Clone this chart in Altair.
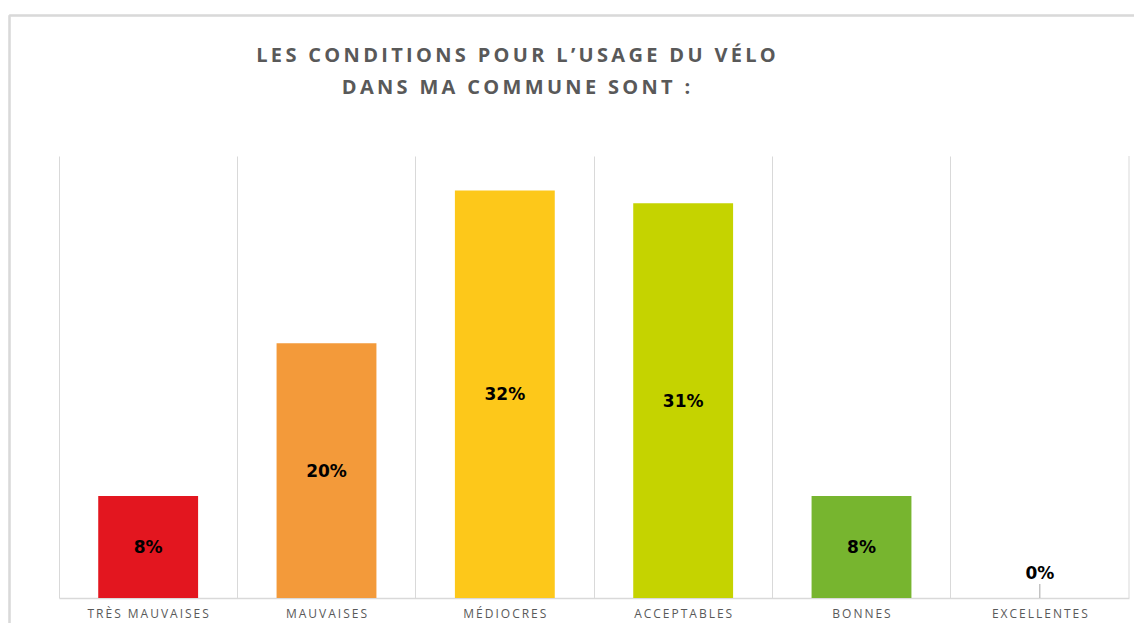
import altair as alt
import pandas as pd

categories = ["TRÈS MAUVAISES", "MAUVAISES", "MÉDIOCRES", "ACCEPTABLES", "BONNES", "EXCELLENTES"]
values = [0.08, 0.20, 0.32, 0.31, 0.08, 0.0]
labels = ["8%", "20%", "32%", "31%", "8%", "0%"]
colors = ["#E3161F", "#F39A3A", "#FDC81A", "#C5D300", "#77B52F", "#3A8F2F"]
title_lines = ["LES CONDITIONS POUR L’USAGE DU VÉLO", "DANS MA COMMUNE SONT :"]

SP = "\u2009"
def spaced(s):
    return SP.join(list(s))

disp = [spaced(c) for c in categories]
df = pd.DataFrame({"cat": disp, "value": values, "label": labels, "color": colors,
                   "half": [v / 2 for v in values]})

W, H = 1070, 442
xscale = alt.Scale(domain=disp, paddingInner=0, paddingOuter=0)
yscale = alt.Scale(domain=[0, 0.347])

base = alt.Chart(df)

bars = base.mark_bar(width=alt.RelativeBandSize(0.56)).encode(
    x=alt.X("cat:N", scale=xscale, sort=disp, title=None,
            axis=alt.Axis(bandPosition=0, grid=True, gridColor="#D9D9D9", gridWidth=1,
                          ticks=False, domainColor="#D9D9D9", domainWidth=1.5,
                          labelAngle=0, labelColor="#595959", labelFont="Open Sans",
                          labelFontSize=12, labelPadding=10)),
    y=alt.Y("value:Q", scale=yscale, axis=None),
    color=alt.Color("color:N", scale=None),
)

right_line = base.transform_filter(alt.datum.cat == disp[-1]).mark_rule(
    color="#D9D9D9", strokeWidth=1).encode(
    x=alt.X("cat:N", scale=xscale, sort=disp, bandPosition=1),
    y=alt.value(0), y2=alt.value(H),
)

txt = base.transform_filter(alt.datum.value > 0).mark_text(
    font="DejaVu Sans", fontWeight="bold", fontSize=17, color="#000000", baseline="middle", dy=1
).encode(
    x=alt.X("cat:N", scale=xscale, sort=disp),
    y=alt.Y("half:Q", scale=yscale),
    text="label:N",
)

txt0 = base.transform_filter(alt.datum.value == 0).mark_text(
    font="DejaVu Sans", fontWeight="bold", fontSize=17, color="#000000", baseline="bottom", dy=-15
).encode(
    x=alt.X("cat:N", scale=xscale, sort=disp),
    y=alt.Y("value:Q", scale=yscale),
    text="label:N",
)

tick0 = base.transform_filter(alt.datum.value == 0).mark_rule(color="#A6A6A6", strokeWidth=1).encode(
    x=alt.X("cat:N", scale=xscale, sort=disp),
    y=alt.value(H - 14), y2=alt.value(H),
)

frame_top = base.mark_rule(color="#D9D9D9", strokeWidth=1.5).encode(
    x=alt.value(-49.5), x2=alt.value(W + 5), y=alt.value(-140.5))
frame_left = base.mark_rule(color="#D9D9D9", strokeWidth=1.5).encode(
    x=alt.value(-49.5), y=alt.value(-140.5), y2=alt.value(H + 25))

chart = alt.layer(frame_top, frame_left, bars, right_line, txt, txt0, tick0).properties(
    width=W, height=H,
    title=alt.TitleParams(
        text=[spaced(t) for t in title_lines],
        font="Open Sans", fontSize=20, fontWeight="bold", color="#595959",
        lineHeight=32, anchor="middle", dx=-78, offset=-83),
    autosize=alt.AutoSizeParams(type="pad"),
    padding={"left": 0, "top": 6, "right": 0, "bottom": 0},
).configure_view(stroke=None)

chart.save("out.html", embed_options={"renderer": "svg", "actions": False})
